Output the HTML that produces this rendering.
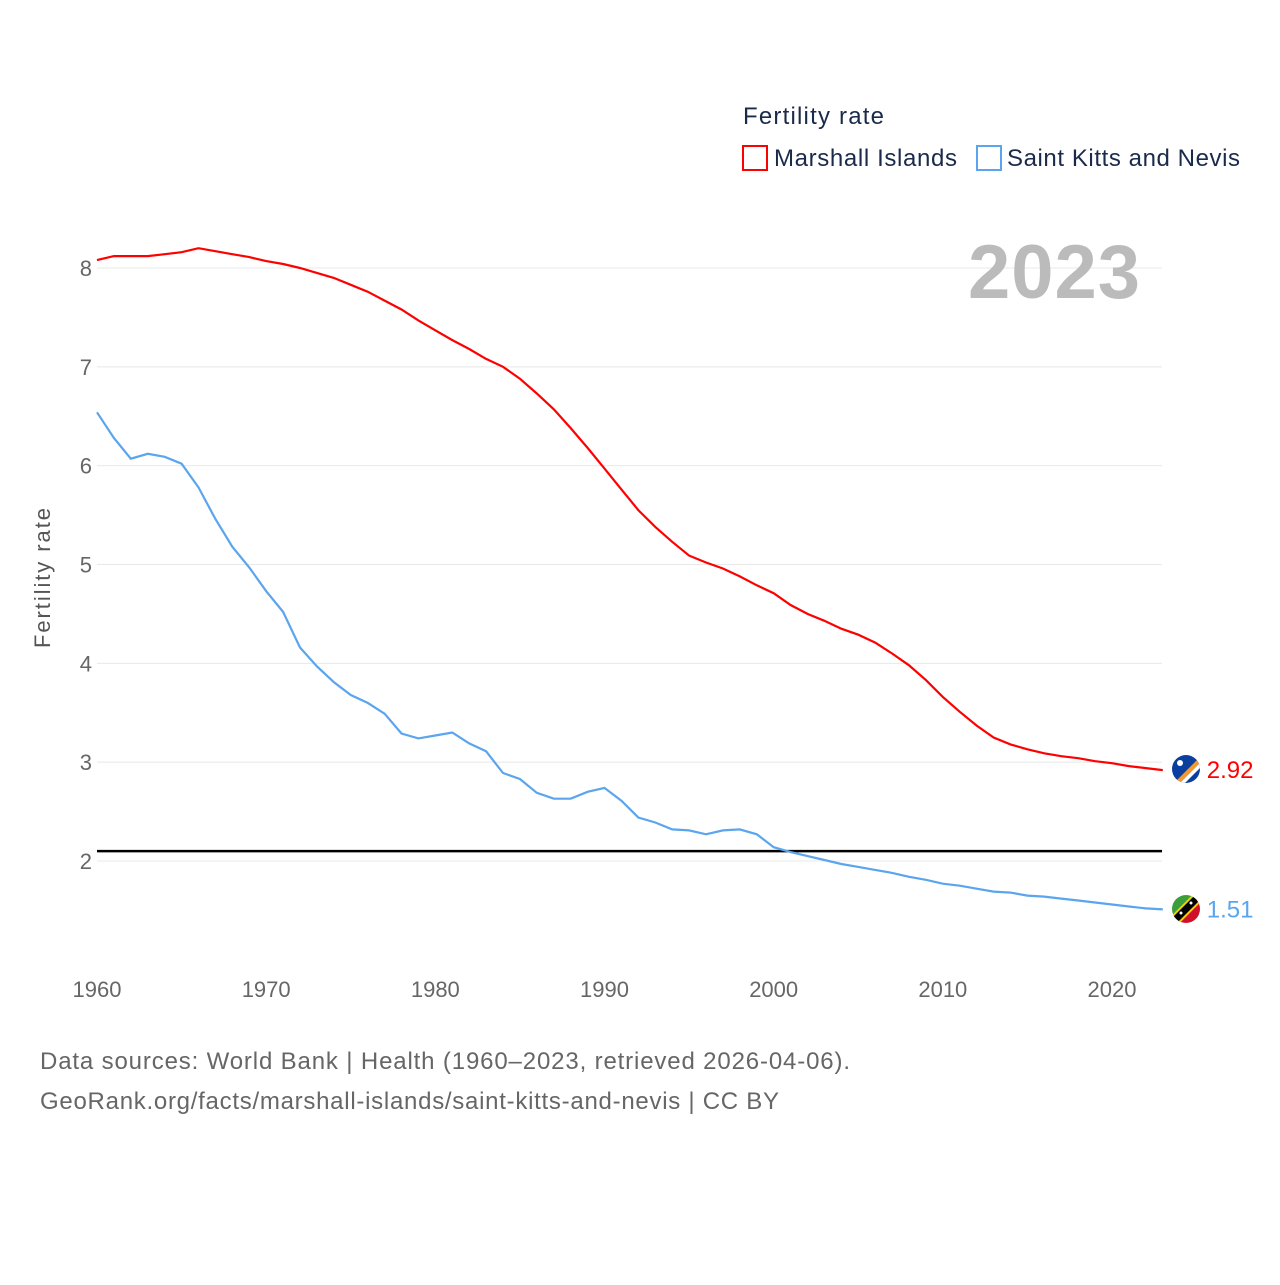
<!DOCTYPE html>
<html><head><meta charset="utf-8"><style>
body{margin:0;background:#fff;font-family:"Liberation Sans",sans-serif}
svg text{font-family:"Liberation Sans",sans-serif}
</style></head><body>
<svg id="chart" width="1280" height="1280" viewBox="0 0 1280 1280">
<defs>
<clipPath id="c1"><circle cx="1186" cy="769" r="14"/></clipPath>
<clipPath id="c2"><circle cx="1186" cy="909" r="14"/></clipPath>
</defs>
<g id="grid"></g>
<g id="yticks"></g>
<g id="xticks"></g>
<text x="50" y="578" transform="rotate(-90 50 578)" text-anchor="middle" font-size="22" fill="#555" textLength="140">Fertility rate</text>
<text x="1140" y="298" text-anchor="end" font-size="76" font-weight="bold" fill="#bbb" textLength="172">2023</text>
<g id="series"></g>
<g clip-path="url(#c1)">
<rect x="1170" y="753" width="32" height="32" fill="#0a3fa0"/>
<polygon points="1172,785 1202,755 1202,761 1178,785" fill="#f59a2a"/>
<polygon points="1178,785 1202,761 1202,766 1183,785" fill="#fff"/>
<circle cx="1180" cy="763" r="3" fill="#fff"/>
</g>
<g clip-path="url(#c2)">
<polygon points="1170,893 1202,893 1170,925" fill="#3a9e3a"/>
<polygon points="1202,893 1202,925 1170,925" fill="#d0102a"/>
<line x1="1172" y1="923" x2="1200" y2="895" stroke="#f8d000" stroke-width="11"/>
<line x1="1172" y1="923" x2="1200" y2="895" stroke="#000" stroke-width="7"/>
<circle cx="1181" cy="913" r="1.5" fill="#fff"/><circle cx="1191" cy="903" r="1.5" fill="#fff"/>
</g>
<g>
<text x="743" y="124" font-size="24" fill="#1a2a4a" textLength="141">Fertility rate</text>
<g><rect x="743" y="146" width="24" height="24" fill="none" stroke="red" stroke-width="2"/><text x="774" y="166" font-size="24" fill="#1a2a4a" textLength="183">Marshall Islands</text></g>
<g><rect x="977" y="146" width="24" height="24" fill="none" stroke="#5aa5ee" stroke-width="2"/><text x="1007" y="166" font-size="24" fill="#1a2a4a" textLength="233">Saint Kitts and Nevis</text></g>
</g>
<text x="40" y="1069" font-size="24" fill="#666" textLength="810">Data sources: World Bank | Health (1960–2023, retrieved 2026-04-06).</text>
<text x="40" y="1109" font-size="24" fill="#666" textLength="739">GeoRank.org/facts/marshall-islands/saint-kitts-and-nevis | CC BY</text>
</svg>
<script>
const years=[];for(let y=1960;y<=2023;y++)years.push(y);
const marshall=[8.08,8.12,8.12,8.12,8.14,8.16,8.2,8.17,8.14,8.11,8.07,8.04,8.0,7.95,7.9,7.83,7.76,7.67,7.58,7.47,7.37,7.27,7.18,7.08,7.0,6.88,6.73,6.57,6.38,6.18,5.97,5.76,5.55,5.38,5.23,5.09,5.02,4.96,4.88,4.79,4.71,4.59,4.5,4.43,4.35,4.29,4.21,4.1,3.98,3.83,3.66,3.51,3.37,3.25,3.18,3.13,3.09,3.06,3.04,3.01,2.99,2.96,2.94,2.92];
const skn=[6.54,6.28,6.07,6.12,6.09,6.02,5.78,5.46,5.18,4.97,4.73,4.52,4.16,3.97,3.81,3.68,3.6,3.49,3.29,3.24,3.27,3.3,3.19,3.11,2.89,2.83,2.69,2.63,2.63,2.7,2.74,2.61,2.44,2.39,2.32,2.31,2.27,2.31,2.32,2.27,2.14,2.09,2.05,2.01,1.97,1.94,1.91,1.88,1.84,1.81,1.77,1.75,1.72,1.69,1.68,1.65,1.64,1.62,1.6,1.58,1.56,1.54,1.52,1.51];
const yTicks=[2,3,4,5,6,7,8];
const xTicks=[1960,1970,1980,1990,2000,2010,2020];
const refLine=[2.1];
const NS="http://www.w3.org/2000/svg";
const X=v=>97+(v-1960)*(1112-97)/60;
const Y=v=>268+(8-v)*(861-268)/6;
function mk(tag,attrs,parent,txt){const e=document.createElementNS(NS,tag);for(const k in attrs)e.setAttribute(k,attrs[k]);if(txt!=null)e.textContent=txt;document.getElementById(parent).appendChild(e);return e;}
yTicks.forEach(t=>{
 const l=mk('line',{x1:97,x2:1162,y1:Y(t),y2:Y(t),stroke:'#e8e8e8','stroke-width':1},'grid');
 
 
 const tx=mk('text',{x:92,y:Y(t)+8,'text-anchor':'end','font-size':22,fill:'#666'},'yticks',t);
 
 
});
xTicks.forEach(t=>{
 const tx=mk('text',{x:X(t),y:997,'text-anchor':'middle','font-size':22,fill:'#666'},'xticks',t);
 
 
});
refLine.forEach(v=>{
 const l=mk('line',{x1:97,x2:1162,y1:Y(v),y2:Y(v),stroke:'#000','stroke-width':2.5},'series');
 
 
});
function line(vals,color,name){
 const d=vals.map((v,i)=>(i?'L':'M')+X(years[i]).toFixed(1)+','+Y(v).toFixed(1)).join('');
 const p=mk('path',{d:d,fill:'none',stroke:color,'stroke-width':2.2},'series');
 
 
 const last=vals[vals.length-1],lx=X(years[years.length-1]),ly=Y(last);
 const t=mk('text',{x:lx+44,y:ly+8,'font-size':24,fill:color},'series',last.toFixed(2));
 
 
}
line(marshall,'#ff0000','marshall-islands');
line(skn,'#5aa5ee','saint-kitts-and-nevis');
</script>
</body></html>
